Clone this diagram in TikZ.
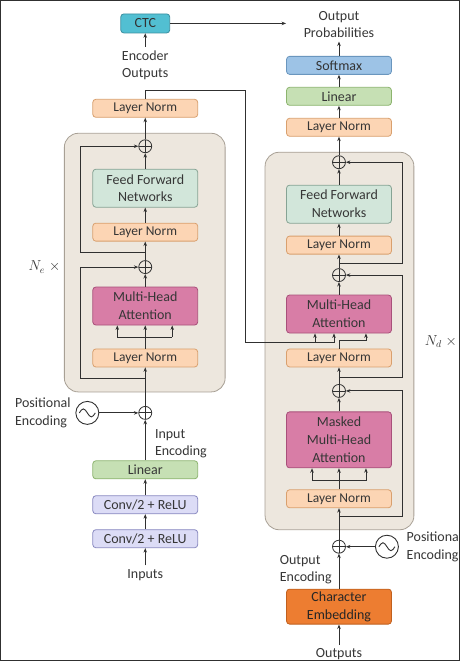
\documentclass[tikz,border=0pt]{standalone}
\usepackage{fontspec}
\setmainfont{Carlito}
\usepackage{xcolor}
\usepackage{tikz}
\usetikzlibrary{arrows.meta,positioning,calc}

\definecolor{lnfill}{HTML}{FCD5B4}
\definecolor{lnline}{HTML}{D9A06E}
\definecolor{ffnfill}{HTML}{D2E6DA}
\definecolor{ffnline}{HTML}{86A394}
\definecolor{mhafill}{HTML}{D87DA6}
\definecolor{mhaline}{HTML}{A8507A}
\definecolor{linfill}{HTML}{C6E0B4}
\definecolor{linline}{HTML}{8CB46E}
\definecolor{smfill}{HTML}{9DC3E6}
\definecolor{smline}{HTML}{6A96BE}
\definecolor{ctcfill}{HTML}{52BFD2}
\definecolor{ctcline}{HTML}{3A8FA0}
\definecolor{convfill}{HTML}{DCDCF6}
\definecolor{convline}{HTML}{8888C0}
\definecolor{embfill}{HTML}{ED7D31}
\definecolor{embline}{HTML}{C0601E}
\definecolor{stackfill}{HTML}{EDE7DE}
\definecolor{stackline}{HTML}{A8A095}
\definecolor{txtgray}{HTML}{363636}
\definecolor{linegray}{HTML}{303030}

\begin{document}
\begin{tikzpicture}[x=1pt, y=-1pt, >={Stealth[length=4.5pt,width=3.5pt]},
    tf block/.style={draw, rounded corners=3pt, minimum width=105pt, minimum height=18pt, inner sep=1pt, align=center, line width=0.8pt, text=txtgray, font=\fontsize{14}{18}\selectfont},
    ln block/.style={tf block, fill=lnfill, draw=lnline, font=\fontsize{13.5}{17}\selectfont},
    ffn block/.style={tf block, fill=ffnfill, draw=ffnline, minimum height=38pt},
    mha block/.style={tf block, fill=mhafill, draw=mhaline, minimum height=38pt},
    lin block/.style={tf block, fill=linfill, draw=linline},
    conv block/.style={tf block, fill=convfill, draw=convline},
    stack/.style={draw=stackline, fill=stackfill, rounded corners=14pt, line width=0.8pt},
    add/.style={draw=linegray, circle, minimum size=13pt, inner sep=0pt, line width=0.8pt,
        path picture={\draw[linegray, line width=0.8pt] (path picture bounding box.north) -- (path picture bounding box.south)
            (path picture bounding box.west) -- (path picture bounding box.east);}},
    sine/.style={draw=linegray, circle, minimum size=23pt, inner sep=0pt, line width=0.9pt,
        path picture={\draw[linegray, line width=0.9pt] ([xshift=-8pt]path picture bounding box.center)
            sin ++(4pt,4pt) cos ++(4pt,-4pt) sin ++(4pt,-4pt) cos ++(4pt,4pt);}},
    lbl/.style={align=center, text=txtgray, font=\fontsize{14}{17.5}\selectfont},
    every path/.style={line width=0.9pt, draw=linegray}]

    \useasboundingbox[fill=white] (0,0) rectangle (460,661);

    % encoder and decoder stacks
    \draw[stack] (64,133) rectangle (225,392);
    \draw[stack] (265,152) rectangle (414,530);

    % encoder
    \node[tf block, fill=ctcfill, draw=ctcline, minimum width=49pt, minimum height=19pt, text=black!80] (ctc) at (145,23) {CTC};
    \node[lbl] (enctxt) at (145,65) {Encoder\\Outputs};
    \node[ln block] (encln3) at (145,108) {Layer Norm};
    \node[add] (encadd2) at (145,146) {};
    \node[ffn block] (encffn) at (145,188) {Feed Forward\\Networks};
    \node[ln block] (encln2) at (145,232) {Layer Norm};
    \node[add] (encadd1) at (145,267) {};
    \node[mha block] (encmha) at (145,306) {Multi-Head\\Attention};
    \node[ln block] (encln1) at (145,358) {Layer Norm};
    \node[add] (encpos) at (145,413) {};
    \node[sine] (encsine) at (87,413) {};
    \node[lbl, align=left, anchor=east] (encpostxt) at (74,413) {Positional\\Encoding};
    \node[lbl, align=left, anchor=west] (inenctxt) at (151,444) {Input\\Encoding};
    \node[lin block] (enclin) at (145,470) {Linear};
    \node[conv block] (conv1) at (145,505) {Conv/2 + ReLU};
    \node[conv block] (conv2) at (145,539) {Conv/2 + ReLU};
    \node[lbl] (inputs) at (145,575) {Inputs};
    \node[font=\fontsize{14}{16}\selectfont, text=txtgray] (ne) at (44,267) {$N_e\;\times$};

    % decoder
    \node[lbl] (outprob) at (339,24) {Output\\Probabilities};
    \node[tf block, fill=smfill, draw=smline, text=black!80] (softmax) at (339,65) {Softmax};
    \node[lin block] (declin) at (339,96) {Linear};
    \node[ln block] (decln4) at (339,127) {Layer Norm};
    \node[add] (decadd3) at (339,162) {};
    \node[ffn block] (decffn) at (339,204) {Feed Forward\\Networks};
    \node[ln block] (decln3) at (339,245) {Layer Norm};
    \node[add] (decadd2) at (339,275) {};
    \node[mha block] (decmha) at (339,314) {Multi-Head\\Attention};
    \node[ln block] (decln2) at (339,358) {Layer Norm};
    \node[add] (decadd1) at (339,391) {};
    \node[mha block, minimum height=56pt] (decmmha) at (339,440) {Masked\\Multi-Head\\Attention};
    \node[ln block] (decln1) at (339,499) {Layer Norm};
    \node[add] (decpos) at (339,547) {};
    \node[sine] (decsine) at (387,547) {};
    \node[lbl, align=left, anchor=west] (decpostxt) at (403,547) {Positiona\\Encoding};
    \node[lbl, align=left, anchor=west] (outenctxt) at (276,570) {Output\\Encoding};
    \node[tf block, fill=embfill, draw=embline, minimum height=35pt, text=black!85] (charemb) at (339,607) {Character\\Embedding};
    \node[lbl] (outputs) at (339,655) {Outputs};
    \node[font=\fontsize{14}{16}\selectfont, text=txtgray] (nd) at (441,342) {$N_d\;\times$};

    % encoder connections
    \draw[->] (inputs) -- (conv2);
    \draw[->] (conv2) -- (conv1);
    \draw[->] (conv1) -- (enclin);
    \draw[->] (enclin) -- (encpos);
    \draw[->] (encsine) -- (encpos);
    \draw[->] (encpos) -- (encln1);
    \coordinate (eres1) at (145,379);
    \draw[->] (eres1) -| (80,267) -- (encadd1);
    \coordinate (esplit) at (145,337);
    \draw[->] (encln1) -- (encmha);
    \draw ([xshift=-28pt]esplit) -- ([xshift=27pt]esplit);
    \draw[->] ([xshift=-28pt]esplit) -- ([xshift=-28pt]encmha.south);
    \draw[->] ([xshift=27pt]esplit) -- ([xshift=27pt]encmha.south);
    \draw[->] (encmha) -- (encadd1);
    \draw[->] (encadd1) -- (encln2);
    \coordinate (eres2) at (145,252);
    \draw[->] (eres2) -| (80,146) -- (encadd2);
    \draw[->] (encln2) -- (encffn);
    \draw[->] (encffn) -- (encadd2);
    \draw[->] (encadd2) -- (encln3);
    \coordinate (cross) at (315,342);
    \draw[->] (encln3.north) |- (245,90) |- ([xshift=-5pt]decmha.south |- cross) -- ([xshift=-5pt]decmha.south);
    \draw[->] (cross) -- (cross |- decmha.south);
    \draw[->] (enctxt) -- (ctc);
    \coordinate (ctcend) at (286,23);
    \draw[->] (ctc) -- (ctcend);

    % decoder connections
    \draw[->] (outputs) -- (charemb);
    \draw[->] (charemb) -- (decpos);
    \draw[->] (decsine) -- (decpos);
    \draw[->] (decpos) -- (decln1);
    \coordinate (dres1) at (339,517);
    \draw[->] (dres1) -| (403,391) -- (decadd1);
    \coordinate (dsplit) at (339,481);
    \draw[->] (decln1) -- (decmmha);
    \draw ([xshift=-27pt]dsplit) -- ([xshift=27pt]dsplit);
    \draw[->] ([xshift=-27pt]dsplit) -- ([xshift=-27pt]decmmha.south);
    \draw[->] ([xshift=27pt]dsplit) -- ([xshift=27pt]decmmha.south);
    \draw[->] (decmmha) -- (decadd1);
    \draw[->] (decadd1) -- (decln2);
    \coordinate (dres2) at (339,378);
    \draw[->] (dres2) -| (403,275) -- (decadd2);
    \draw[->] (decln2.north) |- (366,340) -- ([xshift=27pt]decmha.south);
    \draw[->] (decmha) -- (decadd2);
    \draw[->] (decadd2) -- (decln3);
    \coordinate (dres3) at (339,263);
    \draw[->] (dres3) -| (403,162) -- (decadd3);
    \draw[->] (decln3) -- (decffn);
    \draw[->] (decffn) -- (decadd3);
    \draw[->] (decadd3) -- (decln4);
    \draw[->] (decln4) -- (declin);
    \draw[->] (declin) -- (softmax);
    \draw[->] (softmax) -- (outprob);
\end{tikzpicture}
\end{document}
